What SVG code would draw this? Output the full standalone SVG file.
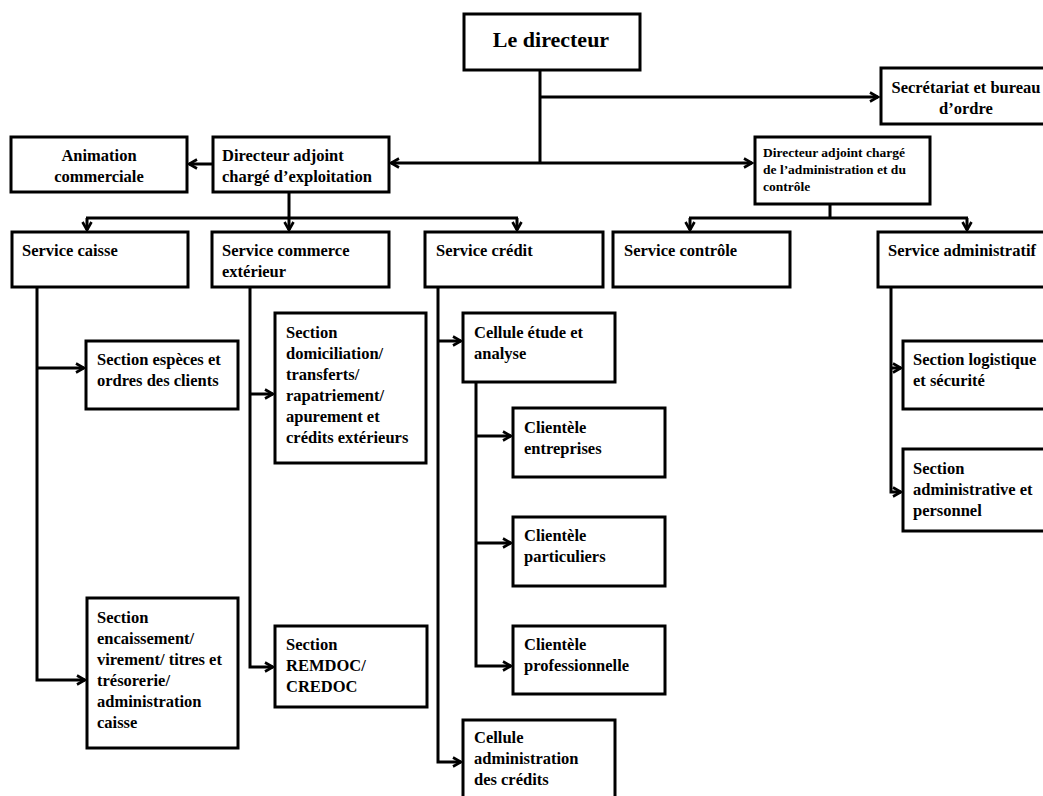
<svg xmlns="http://www.w3.org/2000/svg" width="1043" height="796" viewBox="0 0 1043 796">
<defs>
<marker id="ar" markerUnits="userSpaceOnUse" markerWidth="12" markerHeight="12" refX="9" refY="5" orient="auto" overflow="visible">
<path d="M1,0.5 L9,5 L1,9.5" fill="none" stroke="#000" stroke-width="2.6" stroke-linejoin="miter"/>
</marker>
</defs>
<style>
.b{fill:#fff;stroke:#000;stroke-width:3}
.t{font-family:"Liberation Serif","Times New Roman",serif;font-weight:bold;font-size:16.5px;fill:#000}
.s{font-size:13.5px}
.c{text-anchor:middle}
.l{fill:none;stroke:#000;stroke-width:3}
.a{fill:none;stroke:#000;stroke-width:3;marker-end:url(#ar)}
</style>
<rect width="1043" height="796" fill="#fff"/>
<g id="connectors">
<path class="l" d="M540,70 V163"/>
<path class="a" d="M540,97 H878"/>
<path class="a" d="M540,163 H391"/>
<path class="a" d="M540,163 H752"/>
<path class="a" d="M213,164 H189"/>
<path class="l" d="M289,192 V218 M86,218 H518"/>
<path class="a" d="M87,218 V230"/>
<path class="a" d="M289,218 V230"/>
<path class="a" d="M517,218 V230"/>
<path class="l" d="M830,204 V218 M689,218 H968"/>
<path class="a" d="M690,218 V230"/>
<path class="a" d="M967,218 V230"/>
<path class="a" d="M37,287 V680 H85"/>
<path class="a" d="M37,368 H84"/>
<path class="a" d="M250,287 V667 H273"/>
<path class="a" d="M250,394 H273"/>
<path class="a" d="M438,287 V762 H461"/>
<path class="a" d="M438,341 H461"/>
<path class="a" d="M476,382 V666 H511"/>
<path class="a" d="M476,436 H511"/>
<path class="a" d="M476,543 H511"/>
<path class="a" d="M891,287 V492 H901"/>
<path class="a" d="M891,368 H901"/>
</g>
<g id="directeur"><rect class="b" x="464" y="14" width="176" height="56"/><text class="t c" x="551" y="47" style="font-size:22px">Le directeur</text></g>
<g id="secretariat"><rect class="b" x="881" y="68" width="172" height="56"/><text class="t c" x="966" y="93">Secrétariat et bureau</text><text class="t c" x="966" y="114">d’ordre</text></g>
<g id="animation"><rect class="b" x="11" y="137" width="176" height="55"/><text class="t c" x="99" y="161">Animation</text><text class="t c" x="99" y="182">commerciale</text></g>
<g id="da-exploitation"><rect class="b" x="213" y="137" width="176" height="55"/><text class="t" x="222" y="161">Directeur adjoint</text><text class="t" x="222" y="182">chargé d’exploitation</text></g>
<g id="da-administration"><rect class="b" x="755" y="137" width="175" height="67"/><text class="t s" x="763" y="157">Directeur adjoint chargé</text><text class="t s" x="763" y="174">de l’administration et du</text><text class="t s" x="763" y="191">contrôle</text></g>
<g id="service-caisse"><rect class="b" x="12" y="232" width="176" height="55"/><text class="t" x="22" y="256">Service caisse</text></g>
<g id="service-commerce"><rect class="b" x="212" y="232" width="177" height="55"/><text class="t" x="222" y="256">Service commerce</text><text class="t" x="222" y="277">extérieur</text></g>
<g id="service-credit"><rect class="b" x="425" y="232" width="178" height="55"/><text class="t" x="436" y="256">Service crédit</text></g>
<g id="service-controle"><rect class="b" x="613" y="232" width="177" height="55"/><text class="t" x="624" y="256">Service contrôle</text></g>
<g id="service-administratif"><rect class="b" x="878" y="232" width="172" height="55"/><text class="t" x="888" y="256">Service administratif</text></g>
<g id="section-especes"><rect class="b" x="86" y="341" width="152" height="68"/><text class="t" x="97" y="365">Section espèces et</text><text class="t" x="97" y="386">ordres des clients</text></g>
<g id="section-encaissement"><rect class="b" x="87" y="598" width="151" height="150"/><text class="t" x="97" y="623">Section</text><text class="t" x="97" y="644">encaissement/</text><text class="t" x="97" y="665">virement/ titres et</text><text class="t" x="97" y="686">trésorerie/</text><text class="t" x="97" y="707">administration</text><text class="t" x="97" y="728">caisse</text></g>
<g id="section-domiciliation"><rect class="b" x="275" y="313" width="151" height="150"/><text class="t" x="286" y="338">Section</text><text class="t" x="286" y="359">domiciliation/</text><text class="t" x="286" y="380">transferts/</text><text class="t" x="286" y="401">rapatriement/</text><text class="t" x="286" y="422">apurement et</text><text class="t" x="286" y="443">crédits extérieurs</text></g>
<g id="section-remdoc"><rect class="b" x="275" y="626" width="152" height="81"/><text class="t" x="286" y="650">Section</text><text class="t" x="286" y="671">REMDOC/</text><text class="t" x="286" y="692">CREDOC</text></g>
<g id="cellule-etude"><rect class="b" x="463" y="313" width="152" height="69"/><text class="t" x="474" y="338">Cellule étude et</text><text class="t" x="474" y="359">analyse</text></g>
<g id="clientele-entreprises"><rect class="b" x="513" y="408" width="152" height="69"/><text class="t" x="524" y="433">Clientèle</text><text class="t" x="524" y="454">entreprises</text></g>
<g id="clientele-particuliers"><rect class="b" x="513" y="517" width="152" height="69"/><text class="t" x="524" y="541">Clientèle</text><text class="t" x="524" y="562">particuliers</text></g>
<g id="clientele-professionnelle"><rect class="b" x="513" y="626" width="152" height="68"/><text class="t" x="524" y="650">Clientèle</text><text class="t" x="524" y="671">professionnelle</text></g>
<g id="cellule-administration"><rect class="b" x="463" y="720" width="152" height="82"/><text class="t" x="474" y="743">Cellule</text><text class="t" x="474" y="764">administration</text><text class="t" x="474" y="785">des crédits</text></g>
<g id="section-logistique"><rect class="b" x="903" y="341" width="147" height="68"/><text class="t" x="913" y="365">Section logistique</text><text class="t" x="913" y="386">et sécurité</text></g>
<g id="section-administrative"><rect class="b" x="903" y="449" width="147" height="82"/><text class="t" x="913" y="474">Section</text><text class="t" x="913" y="495">administrative et</text><text class="t" x="913" y="516">personnel</text></g>
</svg>
